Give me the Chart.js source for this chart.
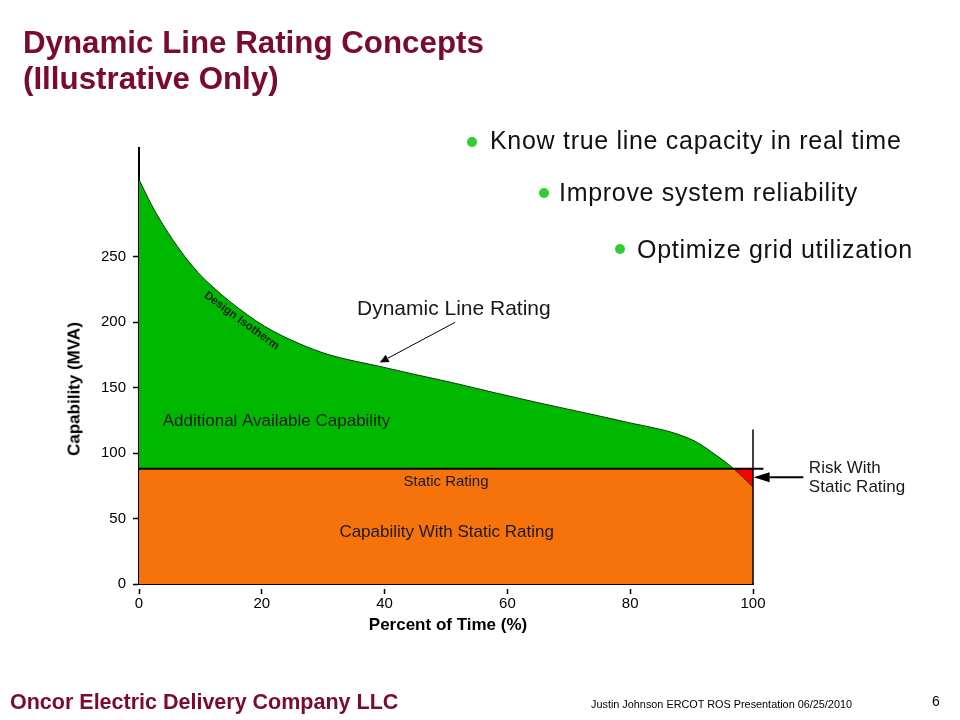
<!DOCTYPE html>
<html><head><meta charset="utf-8">
<script src="https://cdn.jsdelivr.net/npm/chart.js@4/dist/chart.umd.min.js"></script>
<style>
html,body{margin:0;padding:0;background:#fff;}
body{width:960px;height:720px;position:relative;overflow:hidden;font-family:'Liberation Sans',Arial,sans-serif;}
#c{position:absolute;left:0;top:0;}
.abs{position:absolute;white-space:nowrap;}
#title{left:23px;top:24.5px;font-weight:bold;font-size:31.3px;line-height:36px;color:#7a0a32;}
.bul{font-size:25px;line-height:30px;color:#111;letter-spacing:0.7px;}
.dot{position:absolute;width:10px;height:10px;border-radius:50%;background:#33cc33;}
.axt{font-weight:bold;font-size:17px;line-height:19px;color:#000;}
</style></head>
<body>
<canvas id="c" width="960" height="720"></canvas>
<div id="title" class="abs">Dynamic Line Rating Concepts<br>(Illustrative Only)</div>

<div class="dot" style="left:467px;top:137px;"></div>
<div class="abs bul" style="left:490px;top:125px;">Know true line capacity in real time</div>
<div class="dot" style="left:539px;top:188px;"></div>
<div class="abs bul" style="left:559px;top:177px;">Improve system reliability</div>
<div class="dot" style="left:615px;top:244px;"></div>
<div class="abs bul" style="left:637px;top:234px;">Optimize grid utilization</div>

<div class="abs axt" style="left:74px;top:389px;transform:translate(-50%,-50%) rotate(-90deg);">Capability (MVA)</div>
<div class="abs axt" style="left:448px;top:615px;transform:translateX(-50%);">Percent of Time (%)</div>

<div class="abs" style="left:10px;top:690px;font-weight:bold;font-size:21.5px;line-height:25px;color:#7a0a32;">Oncor Electric Delivery Company LLC</div>
<div class="abs" id="pres" style="left:591px;top:698px;font-family:'Liberation Sans Narrow','Liberation Sans',sans-serif;font-size:11px;line-height:13px;color:#000;transform-origin:0 0;">Justin Johnson ERCOT ROS Presentation 06/25/2010</div>
<div class="abs" style="left:932px;top:693px;font-size:14px;line-height:16px;color:#000;">6</div>

<script>
// ---- data ----
const pct = [0, 2, 4.1, 7, 9.6, 12, 15, 20.4, 25.9, 31, 39.4, 45, 51.3, 58, 64.5, 74.8, 80, 85.5, 88, 89.9, 91.5, 93.2, 95, 96.7, 98.5, 100];
const mva = [309, 290, 273, 253, 238, 227, 215, 197, 184, 175, 166, 160, 153.5, 146, 139, 128.5, 123, 117.5, 114, 110.5, 106.5, 101, 95, 88.7, 81, 74];
const staticRating = 88;
const staticLineEnd = 101.7;
const markerTop = 118;
const xTicks = [0, 20, 40, 60, 80, 100];
const yTicks = [0, 50, 100, 150, 200, 250];
const xMin = 0, xMax = 100, yMin = 0, yMax = 333;

const curve = pct.map((x, i) => ({x: x, y: mva[i]}));

// ---- annotations (data coordinates) ----
const labels = [
  {text: 'Additional Available Capability', x: 3.86, y: 120.9, size: 17, align: 'left'},
  {text: 'Static Rating', x: 50.0, y: 74.9, size: 15, align: 'center'},
  {text: 'Capability With Static Rating', x: 50.1, y: 36.1, size: 17, align: 'center'},
  {text: 'Dynamic Line Rating', x: 35.5, y: 205.5, size: 21, align: 'left'},
  {text: 'Risk With', x: 109.1, y: 84.6, size: 17, align: 'left'},
  {text: 'Static Rating', x: 109.1, y: 70.1, size: 17, align: 'left'},
  {text: 'Design Isotherm', x: 16.7, y: 201, size: 11.5, align: 'center', bold: true, rotate: 36.4, color: '#062006', baseline: 'middle'}
];
const arrows = [
  {from: [51.5, 199.9], to: [39.2, 169.1], width: 1, head: 9, half: 4},
  {from: [108.2, 81.5], to: [100.1, 81.5], width: 2, head: 16, half: 5}
];

const annot = {
  id: 'annot',
  afterDraw(chart) {
    const ctx = chart.ctx, sx = chart.scales.x, sy = chart.scales.y;
    ctx.save();
    labels.forEach(l => {
      const px = sx.getPixelForValue(l.x), py = sy.getPixelForValue(l.y);
      ctx.save();
      ctx.translate(px, py);
      if (l.rotate) ctx.rotate(l.rotate * Math.PI / 180);
      ctx.font = (l.bold ? 'bold ' : '') + l.size + "px 'Liberation Sans', Arial, sans-serif";
      ctx.fillStyle = l.color || '#1a1a1a';
      ctx.textAlign = l.align;
      ctx.textBaseline = l.baseline || 'alphabetic';
      ctx.fillText(l.text, 0, 0);
      ctx.restore();
    });
    arrows.forEach(a => {
      const x1 = sx.getPixelForValue(a.from[0]), y1 = sy.getPixelForValue(a.from[1]);
      const x2 = sx.getPixelForValue(a.to[0]), y2 = sy.getPixelForValue(a.to[1]);
      const ang = Math.atan2(y2 - y1, x2 - x1);
      const bx = x2 - a.head * Math.cos(ang), by = y2 - a.head * Math.sin(ang);
      ctx.strokeStyle = '#000'; ctx.fillStyle = '#000'; ctx.lineWidth = a.width;
      ctx.beginPath(); ctx.moveTo(x1, y1); ctx.lineTo(bx, by); ctx.stroke();
      ctx.beginPath();
      ctx.moveTo(x2, y2);
      ctx.lineTo(bx + a.half * Math.sin(ang), by - a.half * Math.cos(ang));
      ctx.lineTo(bx - a.half * Math.sin(ang), by + a.half * Math.cos(ang));
      ctx.closePath(); ctx.fill();
    });
    ctx.restore();
  }
};

new Chart(document.getElementById('c'), {
  type: 'line',
  data: {
    datasets: [
      {label: 'Static Rating', data: [{x: xMin, y: staticRating}, {x: staticLineEnd, y: staticRating}], borderColor: '#000', borderWidth: 2, pointRadius: 0, fill: false, clip: false, order: 0},
      {label: 'Marker', data: [{x: xMax, y: 0}, {x: xMax, y: markerTop}], borderColor: '#000', borderWidth: 1.5, pointRadius: 0, fill: false, clip: false, order: 0},
      {label: 'Dynamic Line Rating', data: curve, borderColor: '#123812', borderWidth: 1, pointRadius: 0, cubicInterpolationMode: 'monotone',
       fill: {target: {value: staticRating}, above: '#00b800', below: '#ff0000'}, order: 1},
      {label: 'Capability With Static Rating', data: [{x: xMin, y: staticRating}, {x: xMax, y: staticRating}], borderWidth: 0, borderColor: 'rgba(0,0,0,0)', pointRadius: 0,
       fill: 'origin', backgroundColor: '#f5730a', order: 2}
    ]
  },
  options: {
    responsive: false, animation: false, devicePixelRatio: 1,
    layout: {padding: {left: 60, top: 148, right: 207, bottom: 0}},
    plugins: {legend: {display: false}, tooltip: {enabled: false}},
    scales: {
      x: {
        type: 'linear', min: xMin, max: xMax,
        afterBuildTicks: s => { s.ticks = xTicks.map(v => ({value: v})); },
        afterFit: s => { s.height = 136; },
        grid: {drawOnChartArea: false, drawTicks: true, tickLength: 10, tickColor: '#000', tickWidth: 1.5, tickBorderDash: [0, 4, 6, 40]},
        border: {display: true, color: '#000', width: 2},
        ticks: {color: '#000', font: {size: 15, family: "'Liberation Sans', Arial, sans-serif"}, padding: 1, maxRotation: 0, autoSkip: false}
      },
      y: {
        type: 'linear', min: yMin, max: yMax,
        afterBuildTicks: s => { s.ticks = yTicks.map(v => ({value: v})); },
        afterFit: s => { s.width = 79; },
        grid: {drawOnChartArea: false, drawTicks: true, tickLength: 9, tickColor: '#000', tickWidth: 1.5, tickBorderDash: [0, 3, 6, 40]},
        border: {display: true, color: '#000', width: 2},
        ticks: {color: '#000', font: {size: 15, family: "'Liberation Sans', Arial, sans-serif"}, padding: 4, autoSkip: false}
      }
    }
  },
  plugins: [annot]
});

// fit the small footer text to its width
(function(){
  const el = document.getElementById('pres');
  const w = el.getBoundingClientRect().width;
  el.style.transform = 'scaleX(' + (261 / w) + ')';
})();
</script>
</body></html>
